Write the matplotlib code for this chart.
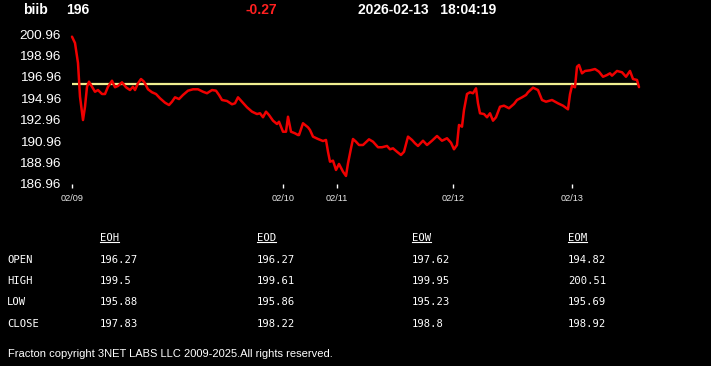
import matplotlib
matplotlib.use('Agg')
import matplotlib.pyplot as plt
from matplotlib.lines import Line2D

# header
symbol = 'biib'
last_price = '196'
change = '-0.27'
stamp = '2026-02-13   18:04:19'
prev_close = 196.27

# intraday series (bar index, price)
bar_idx = [0, 3, 6, 8, 11, 13, 15, 17, 20, 23, 26, 30, 33, 36, 40, 43, 46, 50, 54, 58,
           61, 63, 66, 69, 72, 76, 80, 84, 88, 93, 97, 100, 103, 107, 111, 116, 121, 126, 131, 135,
           140, 144, 147, 150, 155, 160, 163, 166, 170, 175, 180, 185, 188, 191, 194, 197, 201, 205, 207, 211,
           214, 216, 219, 223, 226, 227, 231, 236, 238, 241, 246, 251, 254, 256, 258, 261, 264, 267, 271, 274,
           276, 279, 281, 284, 287, 291, 297, 301, 306, 310, 315, 318, 321, 325, 329, 332, 336, 340, 343, 346,
           351, 355, 360, 365, 370, 375, 379, 382, 385, 387, 390, 392, 395, 398, 401, 404, 406, 408, 412, 415,
           418, 421, 424, 428, 432, 437, 442, 445, 450, 454, 456, 461, 466, 470, 474, 480, 486, 491, 496, 498,
           500, 503, 505, 507, 510, 513, 518, 523, 527, 531, 535, 538, 540, 545, 550, 554, 558, 561, 565, 567]
prices = [200.71, 200.12, 198.25, 195.11, 192.93, 194.17, 196.04, 196.51, 196.04, 195.57,
          195.73, 195.36, 195.36, 196.04, 196.60, 195.99, 196.11, 196.45, 195.99, 195.73,
          196.04, 195.73, 196.36, 196.76, 196.51, 195.80, 195.52, 195.36, 194.96, 194.55,
          194.33, 194.64, 195.05, 194.89, 195.27, 195.67, 195.80, 195.80, 195.57, 195.43,
          195.73, 195.67, 195.27, 194.80, 194.71, 194.40, 194.49, 195.05, 194.64, 194.12,
          193.71, 193.49, 193.56, 193.19, 193.71, 193.40, 192.87, 192.56, 192.77, 191.84,
          191.84, 193.24, 191.84, 191.69, 191.53, 191.53, 192.63, 192.25, 192.00, 191.38,
          191.16, 190.97, 191.07, 189.97, 189.04, 189.14, 188.27, 188.83, 188.11, 187.71,
          188.89, 190.29, 191.16, 190.91, 190.60, 190.60, 191.13, 190.91, 190.39, 190.39,
          190.51, 190.20, 190.29, 189.97, 189.67, 189.97, 191.38, 191.07, 190.76, 190.51,
          191.00, 190.60, 191.00, 191.44, 191.00, 191.23, 190.81, 190.20, 190.60, 192.47,
          192.31, 193.87, 195.36, 195.52, 195.43, 195.89, 194.49, 193.56, 193.49, 193.19,
          193.56, 192.87, 193.19, 194.17, 194.27, 194.03, 194.43, 194.80, 195.05, 195.27,
          195.52, 195.95, 195.73, 194.80, 194.64, 194.80, 194.49, 194.27, 193.93, 195.33,
          196.13, 195.99, 197.91, 198.07, 197.29, 197.51, 197.57, 197.69, 197.44, 196.97,
          197.13, 197.29, 197.07, 197.51, 197.39, 196.97, 197.51, 196.76, 196.67, 196.00]

day_ticks = [0, 211, 265, 381, 500]
day_labels = ['02/09', '02/10', '02/11', '02/12', '02/13']
y_ticks = [200.96, 198.96, 196.96, 194.96, 192.96, 190.96, 188.96, 186.96]

# summary table
periods = ['EOH', 'EOD', 'EOW', 'EOM']
row_names = ['OPEN', 'HIGH', 'LOW', 'CLOSE']
opens = ['196.27', '196.27', '197.62', '194.82']
highs = ['199.5', '199.61', '199.95', '200.51']
lows = ['195.88', '195.86', '195.23', '195.69']
closes = ['197.83', '198.22', '198.8', '198.92']

W, H = 711, 366
fig = plt.figure(figsize=(W / 100, H / 100), dpi=100, facecolor='black')
sans = 'Liberation Sans'
mono = 'DejaVu Sans Mono'

ax = fig.add_axes([72 / W, 1 - 184 / H, 567 / W, 150 / H], facecolor='black')
ax.plot(bar_idx, prices, color='#f00000', lw=1.8, clip_on=False, zorder=3,
        solid_joinstyle='round', solid_capstyle='round')
ax.axhline(prev_close, color='#f0ee90', lw=1.6, zorder=2)
ax.set_xlim(0, 567)
ax.set_ylim(186.96, 200.96)
for s in ax.spines.values():
    s.set_visible(False)
ax.set_yticks(y_ticks)
ax.set_yticklabels([f'{v:.2f}' for v in y_ticks])
ax.tick_params(axis='y', length=0, pad=8, labelsize=9.7, labelcolor='white')
ax.set_xticks(day_ticks)
ax.set_xticklabels(day_labels)
ax.tick_params(axis='x', length=3, width=1, color='white', pad=4, labelsize=6.6, labelcolor='#e8e8e8')
for lbl in ax.get_xticklabels() + ax.get_yticklabels():
    lbl.set_family(sans)

# header line
def fig_text(x, y, s, **kw):
    return fig.text(x / W, 1 - y / H, s, va='center', **kw)

fig_text(23, 10, symbol, color='white', fontsize=10, weight='bold', family=sans)
fig_text(66, 10, last_price, color='white', fontsize=10, weight='bold', family=sans)
fig_text(246, 10, change, color='#ff2020', fontsize=10, weight='bold', family=sans)
fig_text(358, 10, stamp, color='white', fontsize=10, weight='bold', family=sans)

# table
col_x = [100, 257, 412, 568]
row_y = [260, 281, 302, 324]
heads = []
for x, p in zip(col_x, periods):
    heads.append(fig_text(x, 238, p, color='white', fontsize=7.6, family=mono))
for y, name in zip(row_y, row_names):
    fig_text(7, y, name, color='white', fontsize=7.6, family=mono)
for y, vals in zip(row_y, [opens, highs, lows, closes]):
    for x, v in zip(col_x, vals):
        fig_text(x, y, v, color='white', fontsize=7.6, family=mono)

fig_text(8, 354, 'Fracton copyright 3NET LABS LLC 2009-2025.All rights reserved.',
         color='white', fontsize=8, family=sans)

# underline the period headers
fig.canvas.draw()
r = fig.canvas.get_renderer()
for t in heads:
    bb = t.get_window_extent(r).transformed(fig.transFigure.inverted())
    fig.add_artist(Line2D([bb.x0, bb.x1], [bb.y0 + 0.004, bb.y0 + 0.004],
                          color='white', lw=0.8, transform=fig.transFigure))

fig.savefig('out.png', dpi=100, facecolor='black')
